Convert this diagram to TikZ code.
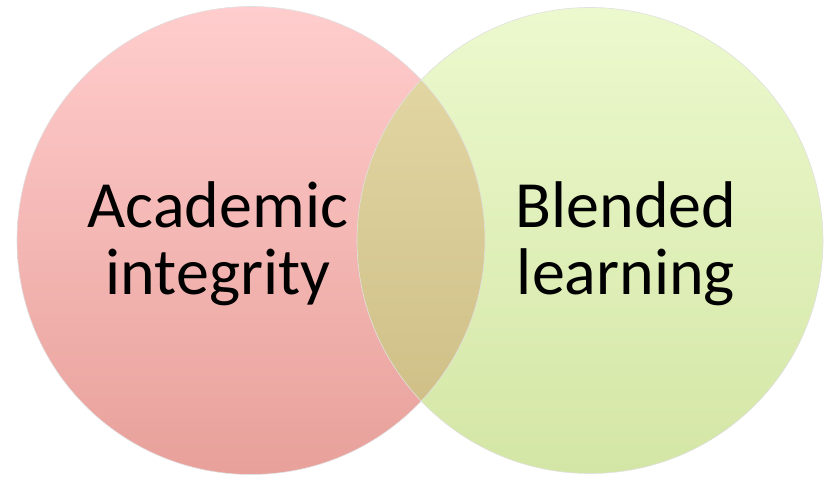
\documentclass[tikz,border=0pt]{standalone}
\usepackage{fontspec}
\setmainfont{Carlito}
\usepackage{xcolor}
\usepackage{tikz}
\definecolor{integtop}{RGB}{255,205,205}
\definecolor{integbot}{RGB}{232,160,154}
\definecolor{blendtop}{RGB}{236,249,206}
\definecolor{blendbot}{RGB}{212,230,165}
\definecolor{bothtop}{RGB}{229,218,168}
\definecolor{bothbot}{RGB}{204,187,130}
\tikzset{
  setlabel/.style={align=center,text=black,font=\fontsize{66}{67}\selectfont},
  rim/.style={draw=black!12,line width=0.6pt}
}
\begin{document}
\begin{tikzpicture}[x=1pt,y=-1pt]
\useasboundingbox (0,0) rectangle (830,478);
\coordinate (integ) at (251,240.5);
\coordinate (blend) at (590,240.5);
\shade[top color=integtop,bottom color=integbot] (integ) circle (234);
\shade[top color=blendtop,bottom color=blendbot] (blend) circle (233);
\begin{scope}
  \clip (integ) circle (234);
  \shade[top color=bothtop,bottom color=bothbot] (blend) circle (233);
\end{scope}
\draw[rim] (integ) circle (234);
\draw[rim] (blend) circle (233);
\node[setlabel] (integlabel) at (218,244) {Academic\\integrity};
\node[setlabel] (blendlabel) at (626,244) {Blended\\learning};
\end{tikzpicture}
\end{document}
